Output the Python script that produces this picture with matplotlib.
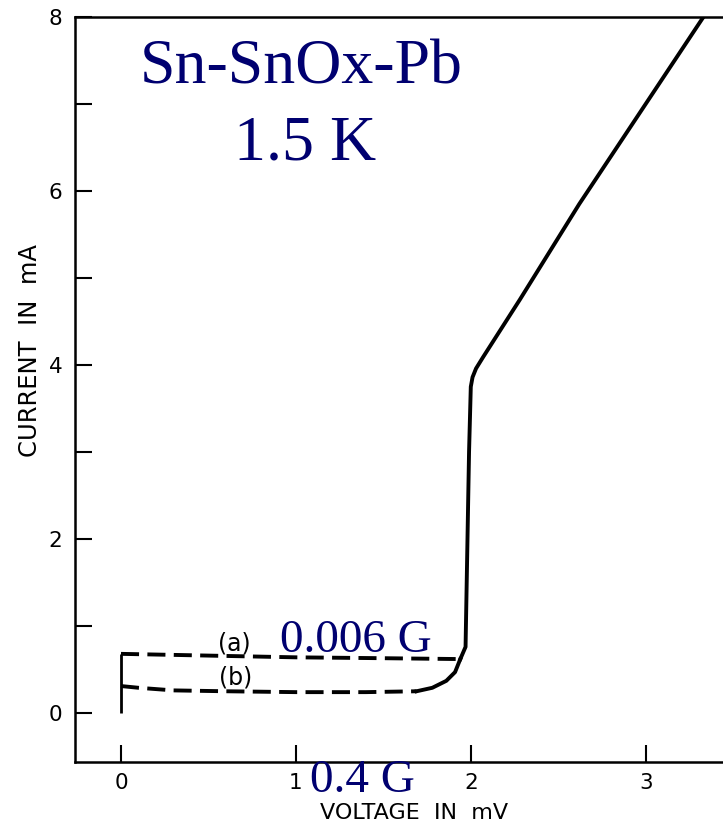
import matplotlib
matplotlib.use("Agg")
import matplotlib.pyplot as plt
from matplotlib.ticker import MultipleLocator

# ---- data (voltage in mV, current in mA) ----
zero_x = [0.0, 0.0]
zero_y = [0.0, 0.68]

a_dash_x = [0.0, 0.5, 1.0, 1.5, 1.94]
a_dash_y = [0.68, 0.66, 0.64, 0.63, 0.62]

b_dash_x = [0.0, 0.1, 0.3, 0.6, 1.0, 1.4, 1.69]
b_dash_y = [0.31, 0.29, 0.26, 0.25, 0.24, 0.24, 0.25]

b_solid_x = [1.69, 1.78, 1.86, 1.91, 1.94]
b_solid_y = [0.25, 0.29, 0.37, 0.47, 0.62]

rise_x = [1.94, 1.97, 1.99, 2.00, 2.01, 2.03, 2.07, 2.28, 2.62, 3.33]
rise_y = [0.62, 0.76, 3.00, 3.75, 3.86, 3.96, 4.09, 4.75, 5.85, 8.00]

x_ticks = [0, 1, 2, 3]
y_major = [0, 2, 4, 6, 8]

navy = "#000070"
sans = "DejaVu Sans"

fig = plt.figure(figsize=(7.23, 8.26), dpi=100)
ax = fig.add_axes([75/723, 64/826, 1 - 75/723, (762-17)/826])
ax.set_xlim(-0.263, 3.442)
ax.set_ylim(-0.563, 8.0)

lw = 2.8
ax.plot(zero_x, zero_y, color="black", lw=2.0, solid_capstyle="butt")
ax.plot(a_dash_x, a_dash_y, color="black", lw=lw, dashes=(13/lw, 6/lw))
ax.plot(b_dash_x, b_dash_y, color="black", lw=lw, dashes=(13/lw, 6/lw))
ax.plot(b_solid_x, b_solid_y, color="black", lw=lw)
ax.plot(rise_x, rise_y, color="black", lw=lw, solid_joinstyle="round")

for s in ["left", "bottom", "top"]:
    ax.spines[s].set_linewidth(1.8)
ax.spines["right"].set_visible(False)

ax.set_xticks(x_ticks)
ax.set_yticks(y_major)
ax.yaxis.set_minor_locator(MultipleLocator(1))
ax.tick_params(axis="both", which="both", direction="in", length=12, width=1.5,
               labelsize=15.5, right=False, top=False)
ax.tick_params(axis="y", pad=9)
ax.tick_params(axis="x", pad=8)
for lab in ax.get_xticklabels() + ax.get_yticklabels():
    lab.set_fontfamily(sans)

ax.set_xlabel("VOLTAGE  IN  mV", fontsize=16, family=sans)
ax.xaxis.set_label_coords(0.523, -0.0765)
ax.xaxis.label.set_va("baseline")
ax.set_ylabel("CURRENT  IN  mA", fontsize=17.5, family=sans)
ax.yaxis.set_label_coords(-0.069, 0.552)
ax.yaxis.label.set_va("center")

ax.text(0.646, 0.80, "(a)", fontsize=17, family=sans, ha="center", va="center")
ax.text(0.657, 0.41, "(b)", fontsize=17, family=sans, ha="center", va="center")

serif = "Liberation Serif"
ax.text(1.03, 7.23, "Sn-SnOx-Pb", fontsize=46, family=serif, color=navy, ha="center", va="baseline")
ax.text(1.05, 6.36, "1.5 K", fontsize=46, family=serif, color=navy, ha="center", va="baseline")
ax.text(1.343, 0.70, "0.006 G", fontsize=34, family=serif, color=navy, ha="center", va="baseline")
ax.text(1.378, -0.908, "0.4 G", fontsize=34, family=serif, color=navy, ha="center", va="baseline", clip_on=False)

fig.savefig("out.png", dpi=100)
